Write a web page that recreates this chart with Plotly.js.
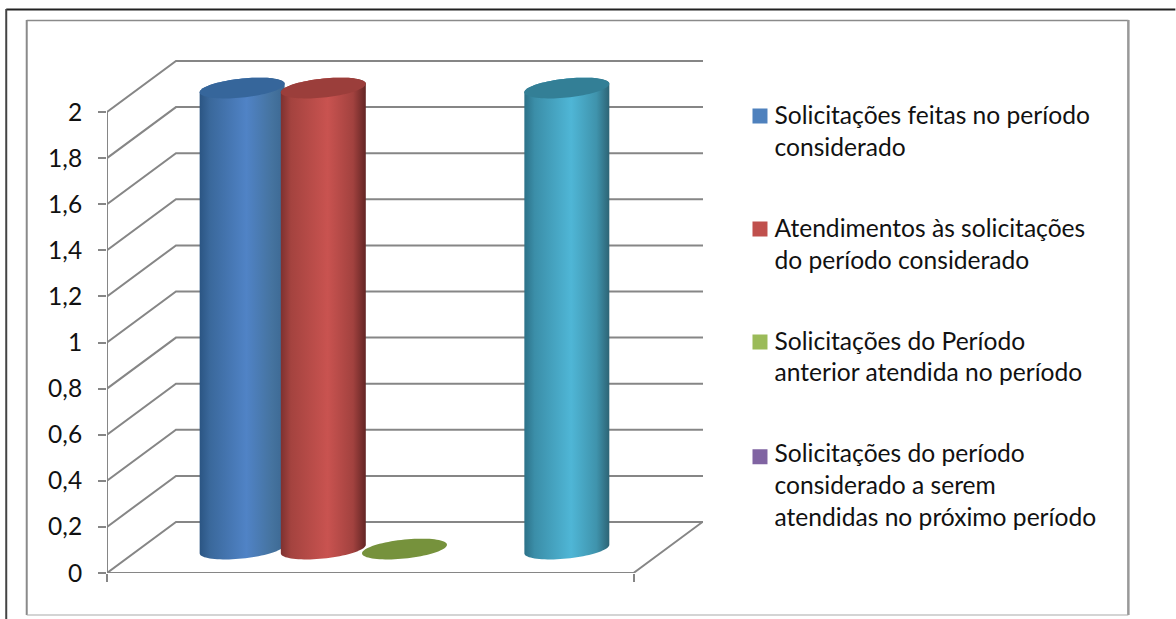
<!DOCTYPE html>
<html><head><meta charset="utf-8">
<script src="https://cdn.plot.ly/plotly-3.0.1.min.js"></script>
<style>html,body{margin:0;padding:0;background:#fff}</style>
</head><body><div id="chart" style="width:1176px;height:619px"></div>
<script>
const seriesNames = [
  ['Solicitações feitas no período','considerado'],
  ['Atendimentos às solicitações','do período considerado'],
  ['Solicitações do Período','anterior atendida no período'],
  ['Solicitações do período','considerado a serem','atendidas no próximo período'],
  null
];
const seriesValues = [2, 2, 0, null, 2];
const swatchColors = ['#4f81bd','#c0504d','#9bbb59','#8064a2','#4bacc6'];
const capColors = ['#36669b','#9b3e3b','#76923c','#604a7b','#337f96'];
const bodyStops = [
  [[0,'#2b5583'],[0.12,'#3a689b'],[0.55,'#5083c6'],[0.85,'#45739f'],[1,'#3c6892']],
  [[0,'#7e3130'],[0.12,'#a4433f'],[0.55,'#c95350'],[0.85,'#a2423f'],[1,'#632524']],
  null, null,
  [[0,'#2c7188'],[0.12,'#3b8ea8'],[0.55,'#4fb6d6'],[0.85,'#3f93ac'],[1,'#2d6475']]
];
const tickVals = [0,0.2,0.4,0.6,0.8,1,1.2,1.4,1.6,1.8,2];
const tickLabels = ['0','0,2','0,4','0,6','0,8','1','1,2','1,4','1,6','1,8','2'];

// plot box in pixels, and the oblique depth of the Excel-style 3D box
const W=1176,H=619, L=107.3,R=703.5,T=59,B=573;
const pxX=81.2, pxY=230.5;               // pixels per x unit, per value unit
const depthX=69/pxX, depthY=51/pxY;      // back-wall offset in axis units
const floorEnd=526.7/pxX;                // right end of the front floor edge
const slotGap=0.74;                      // floor margin before the first series
const cylA=42.5/pxX, cylB=9.5/pxY, tilt=0.1*42.5/pxY; // ellipse semi-axes and tilt

const grey='#868686';
const data=[];

function centerX(i){return slotGap+i+0.5+depthX/2;}
const baseY=depthY*0.47;

seriesValues.forEach((v,i)=>{
  if(!seriesNames[i]&&v===null) return;
  const name=seriesNames[i]?seriesNames[i].join('<br>'):'';
  data.push({type:'bar',x:[centerX(i)],y:[v],base:[baseY],width:[60/pxX],name:name,
    legendgroup:'g'+i,showlegend:!!seriesNames[i],hoverinfo:'skip',
    marker:{color:swatchColors[i],line:{color:swatchColors[i],width:3}}});
});

function wire(xs,ys){data.push({type:'scatter',mode:'lines',x:xs,y:ys,showlegend:false,hoverinfo:'skip',cliponaxis:false,
  line:{color:grey,width:2,simplify:false}});}
wire([0,0],[0,tickVals[tickVals.length-1]]);
tickVals.forEach(t=>{
  wire([0,depthX,(R-L)/pxX],[t,t+depthY,t+depthY]);
});
wire([0,floorEnd,depthX+floorEnd],[0,0,depthY]);

function ell(cx,cy,t0,t1,n){
  const xs=[],ys=[];
  for(let k=0;k<=n;k++){
    const t=t0+(t1-t0)*k/n;
    xs.push(cx+cylA*Math.cos(t));
    ys.push(cy+cylB*Math.sin(t)+tilt*Math.cos(t));
  }
  return [xs,ys];
}
seriesValues.forEach((v,i)=>{
  if(v===null) return;
  const cx=centerX(i);
  if(v>0){
    const top=baseY+v;
    const a=ell(cx,baseY,Math.PI,2*Math.PI,40), b=ell(cx,top,0,Math.PI,40);
    data.push({type:'scatter',mode:'lines',x:a[0].concat(b[0]),y:a[1].concat(b[1]),fill:'toself',
      line:{width:0,simplify:false},showlegend:false,hoverinfo:'skip',cliponaxis:false,
      fillgradient:{type:'horizontal',colorscale:bodyStops[i]}});
  }
  const c=ell(cx,baseY+v,0,2*Math.PI,80);
  data.push({type:'scatter',mode:'lines',x:c[0],y:c[1],fill:'toself',fillcolor:capColors[i],
    line:{width:0,simplify:false},showlegend:false,hoverinfo:'skip',cliponaxis:false});
});

const fx=p=>(p-L)/(R-L), fy=p=>(B-p)/(B-T);
function box(x0,y0,x1,y1,color,w){return {type:'line',xref:'paper',yref:'paper',x0:fx(x0),x1:fx(x1),y0:fy(y0),y1:fy(y1),line:{color:color,width:w},layer:'below'};}

const layout={
  width:W,height:H,paper_bgcolor:'#fff',plot_bgcolor:'rgba(0,0,0,0)',
  margin:{l:L,r:W-R,t:T,b:H-B,pad:0,autoexpand:false},
  barmode:'overlay',
  showlegend:true,
  legend:{x:fx(735),y:fy(91.5),xanchor:'left',yanchor:'top',bgcolor:'rgba(0,0,0,0)',tracegroupgap:46,
    font:{family:'Lato, sans-serif',size:24.6,color:'#111'},itemclick:false,itemdoubleclick:false},
  xaxis:{range:[0,(R-L)/pxX],showgrid:false,zeroline:false,showline:false,automargin:false,
    tickmode:'array',tickvals:[0,floorEnd],ticktext:['',''],ticks:'outside',ticklen:8,tickwidth:2,tickcolor:grey},
  yaxis:{range:[0,(B-T)/pxY],showgrid:false,zeroline:false,showline:false,automargin:false,
    tickmode:'array',tickvals:tickVals,ticktext:tickLabels,ticks:'outside',ticklen:8,tickwidth:2,tickcolor:grey,
    ticklabelstandoff:11,tickfont:{family:'Lato, sans-serif',size:24.5,color:'#111'}},
  shapes:[
    box(6.5,9.5,1176,9.5,'#222',2), box(6.5,9,6.5,619,'#444',2),
    box(27,20.5,1129,20.5,'#8a8a8a',1.5), box(27,20,27,615,'#8a8a8a',2),
    box(1129,20,1129,615,'#999',2.5), box(27,615,1129,615,'#aaa',1.2)
  ]
};
Plotly.newPlot('chart',data,layout,{displayModeBar:false}).then(()=>{
  const legendLines=seriesNames.filter(Boolean).map(n=>n.length);
  document.querySelectorAll('.legend .legendpoints').forEach((g,i)=>{
    g.setAttribute('transform','translate(5.5,'+(-14*(legendLines[i]-1))+')');
  });
});
</script></body></html>
